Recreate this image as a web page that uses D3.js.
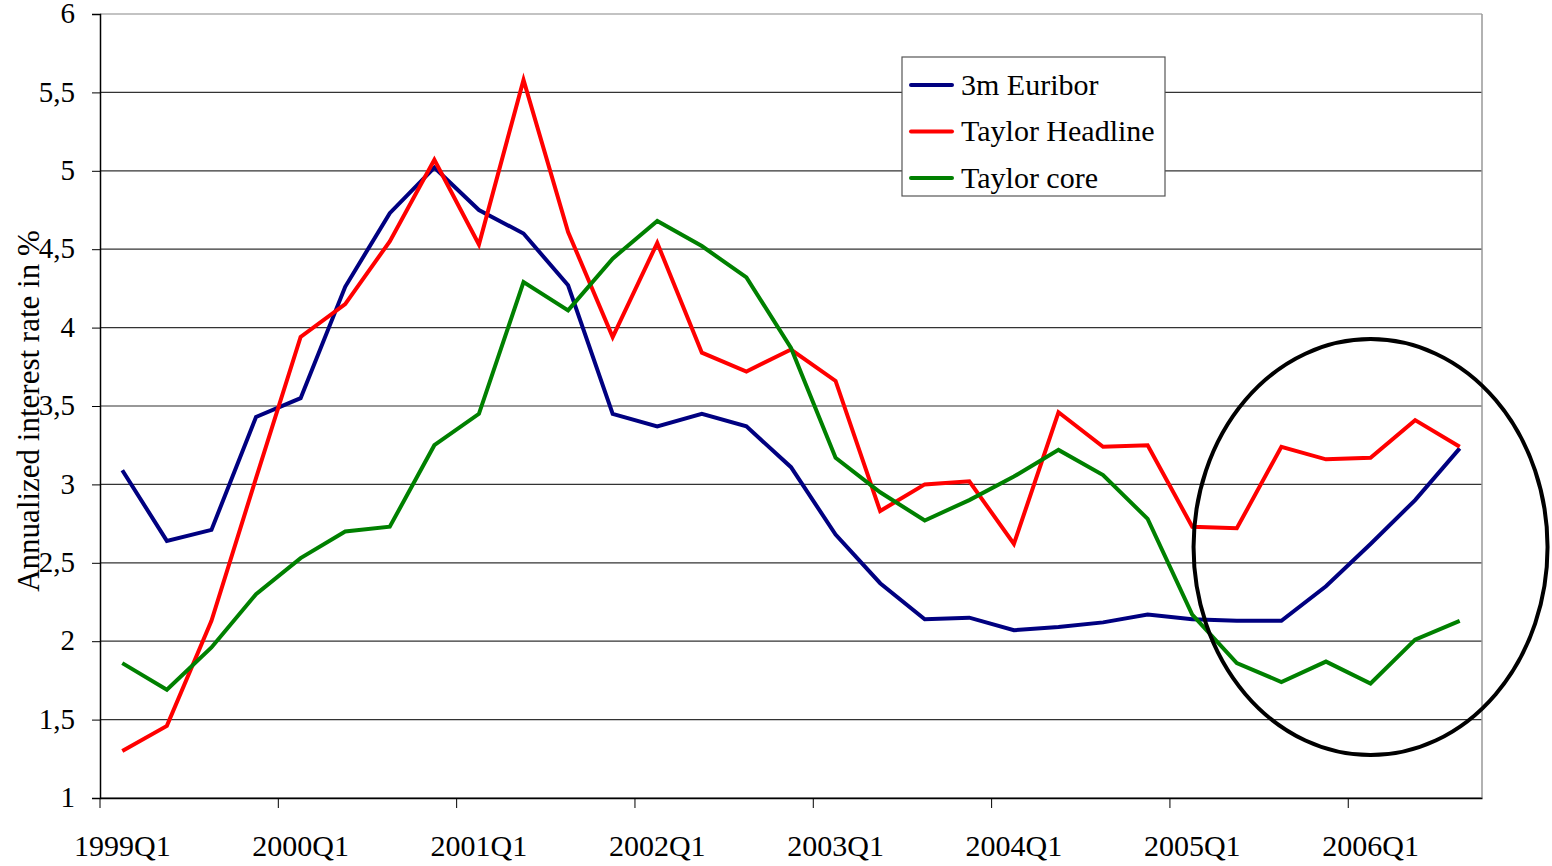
<!DOCTYPE html>
<html>
<head>
<meta charset="utf-8">
<title>Euribor vs Taylor rules</title>
<style>
    body { margin: 0; background: #fff; }
    svg text { font-family: "Liberation Serif", "Times New Roman", serif; fill: #000; }
    .axis .domain { stroke: #000; stroke-width: 1.5; }
    .axis line { stroke: #000; }
</style>
</head>
<body>
<svg width="1552" height="866"></svg>
<script src="https://d3js.org/d3.v7.min.js"></script>
<script>

    var quarters = [];
    [1999, 2000, 2001, 2002, 2003, 2004, 2005, 2006].forEach(function (yr) {
        ["Q1", "Q2", "Q3", "Q4"].forEach(function (q) { quarters.push(yr + q); });
    });
    quarters = quarters.slice(0, 31); // 1999Q1 .. 2006Q3

    var euribor = [3.09, 2.64, 2.71, 3.43, 3.55, 4.26, 4.73, 5.02, 4.75, 4.60,
                   4.27, 3.45, 3.37, 3.45, 3.37, 3.11, 2.68, 2.37, 2.14, 2.15,
                   2.07, 2.09, 2.12, 2.17, 2.14, 2.13, 2.13, 2.35, 2.62, 2.90, 3.23];
    var taylorHeadline = [1.30, 1.46, 2.13, 3.04, 3.94, 4.15, 4.55, 5.07, 4.53, 5.58,
                          4.61, 3.94, 4.54, 3.84, 3.72, 3.86, 3.66, 2.83, 3.00, 3.02,
                          2.62, 3.46, 3.24, 3.25, 2.73, 2.72, 3.24, 3.16, 3.17, 3.41, 3.24];
    var taylorCore = [1.86, 1.69, 1.96, 2.30, 2.53, 2.70, 2.73, 3.25, 3.45, 4.29,
                      4.11, 4.44, 4.68, 4.52, 4.32, 3.87, 3.17, 2.95, 2.77, 2.90,
                      3.05, 3.22, 3.06, 2.78, 2.17, 1.86, 1.74, 1.87, 1.73, 2.01, 2.13];

    var seriesNames = ["3m Euribor", "Taylor Headline", "Taylor core"];
    var seriesColors = ["#000080", "#ff0000", "#008000"];
    var yTicks = [1, 1.5, 2, 2.5, 3, 3.5, 4, 4.5, 5, 5.5, 6];
    var xLabels = ["1999Q1", "2000Q1", "2001Q1", "2002Q1", "2003Q1", "2004Q1", "2005Q1", "2006Q1"];

    var svg = d3.select("svg"),
        margin = {top: 14, right: 70, bottom: 68, left: 100},
        width = +svg.attr("width") - margin.left - margin.right,
        height = +svg.attr("height") - margin.top - margin.bottom,
        g = svg.append("g").attr("transform", "translate(" + margin.left + "," + margin.top + ")");

    var x = d3.scaleBand().domain(quarters).range([0, width]);
    var y = d3.scaleLinear().domain([1, 6]).range([height, 0]);
    var cx = function (q) { return x(q) + x.bandwidth() / 2; };

    // gridlines
    g.append("g")
        .selectAll("line")
        .data(yTicks)
        .enter().append("line")
        .attr("x1", 0)
        .attr("x2", width)
        .attr("y1", function (d) { return y(d); })
        .attr("y2", function (d) { return y(d); })
        .attr("stroke", function (d) { return d === 6 ? "#888" : "#333"; })
        .attr("stroke-width", 1.2);

    // right border
    g.append("line")
        .attr("x1", width).attr("x2", width)
        .attr("y1", 0).attr("y2", height)
        .attr("stroke", "#999")
        .attr("stroke-width", 1.5);

    // y axis
    g.append("g")
        .attr("class", "axis")
        .call(d3.axisLeft(y).tickValues(yTicks).tickSize(8).tickPadding(17)
            .tickFormat(function (d) { return String(d).replace(".", ","); }))
        .selectAll("text")
        .attr("font-size", 29)
        .attr("dy", "0.3em");

    // x axis: labels centered on Q1, ticks on band boundaries
    var xAxis = g.append("g")
        .attr("class", "axis")
        .attr("transform", "translate(0," + height + ")")
        .call(d3.axisBottom(x).tickValues(xLabels).tickSize(0).tickPadding(37));
    xAxis.selectAll("text").attr("font-size", 30);

    xAxis.selectAll(".boundary")
        .data(xLabels)
        .enter().append("line")
        .attr("class", "boundary")
        .attr("x1", function (d) { return x(d); })
        .attr("x2", function (d) { return x(d); })
        .attr("y1", 0)
        .attr("y2", 10)
        .attr("stroke", "#000");

    // y title
    svg.append("text")
        .attr("transform", "translate(39,411) rotate(-90)")
        .attr("text-anchor", "middle")
        .attr("font-size", 31)
        .text("Annualized interest rate in %");

    // lines
    var allSeries = [euribor, taylorHeadline, taylorCore];
    var line = d3.line()
        .x(function (d, i) { return cx(quarters[i]); })
        .y(function (d) { return y(d); });

    g.append("g")
        .selectAll("path")
        .data(allSeries)
        .enter().append("path")
        .attr("fill", "none")
        .attr("stroke", function (d, i) { return seriesColors[i]; })
        .attr("stroke-width", 4)
        .attr("stroke-linejoin", "miter")
        .attr("d", line);

    // circled annotation around the last quarters
    g.append("ellipse")
        .attr("cx", cx("2006Q1"))
        .attr("cy", y(2.6))
        .attr("rx", 177)
        .attr("ry", 208)
        .attr("fill", "none")
        .attr("stroke", "#000")
        .attr("stroke-width", 4);

    // legend
    var legend = svg.append("g").attr("transform", "translate(902,57)");
    legend.append("rect")
        .attr("width", 263)
        .attr("height", 139)
        .attr("fill", "#fff")
        .attr("stroke", "#555")
        .attr("stroke-width", 1.2);

    var item = legend.selectAll(".item")
        .data(seriesNames)
        .enter().append("g")
        .attr("class", "item")
        .attr("transform", function (d, i) { return "translate(0," + (28 + i * 46.5) + ")"; });

    item.append("line")
        .attr("x1", 9).attr("x2", 50)
        .attr("stroke", function (d, i) { return seriesColors[i]; })
        .attr("stroke-width", 4)
        .attr("stroke-linecap", "round");

    item.append("text")
        .attr("x", 59)
        .attr("dy", "0.33em")
        .attr("font-size", 30)
        .text(function (d) { return d; });

</script>
</body>
</html>
